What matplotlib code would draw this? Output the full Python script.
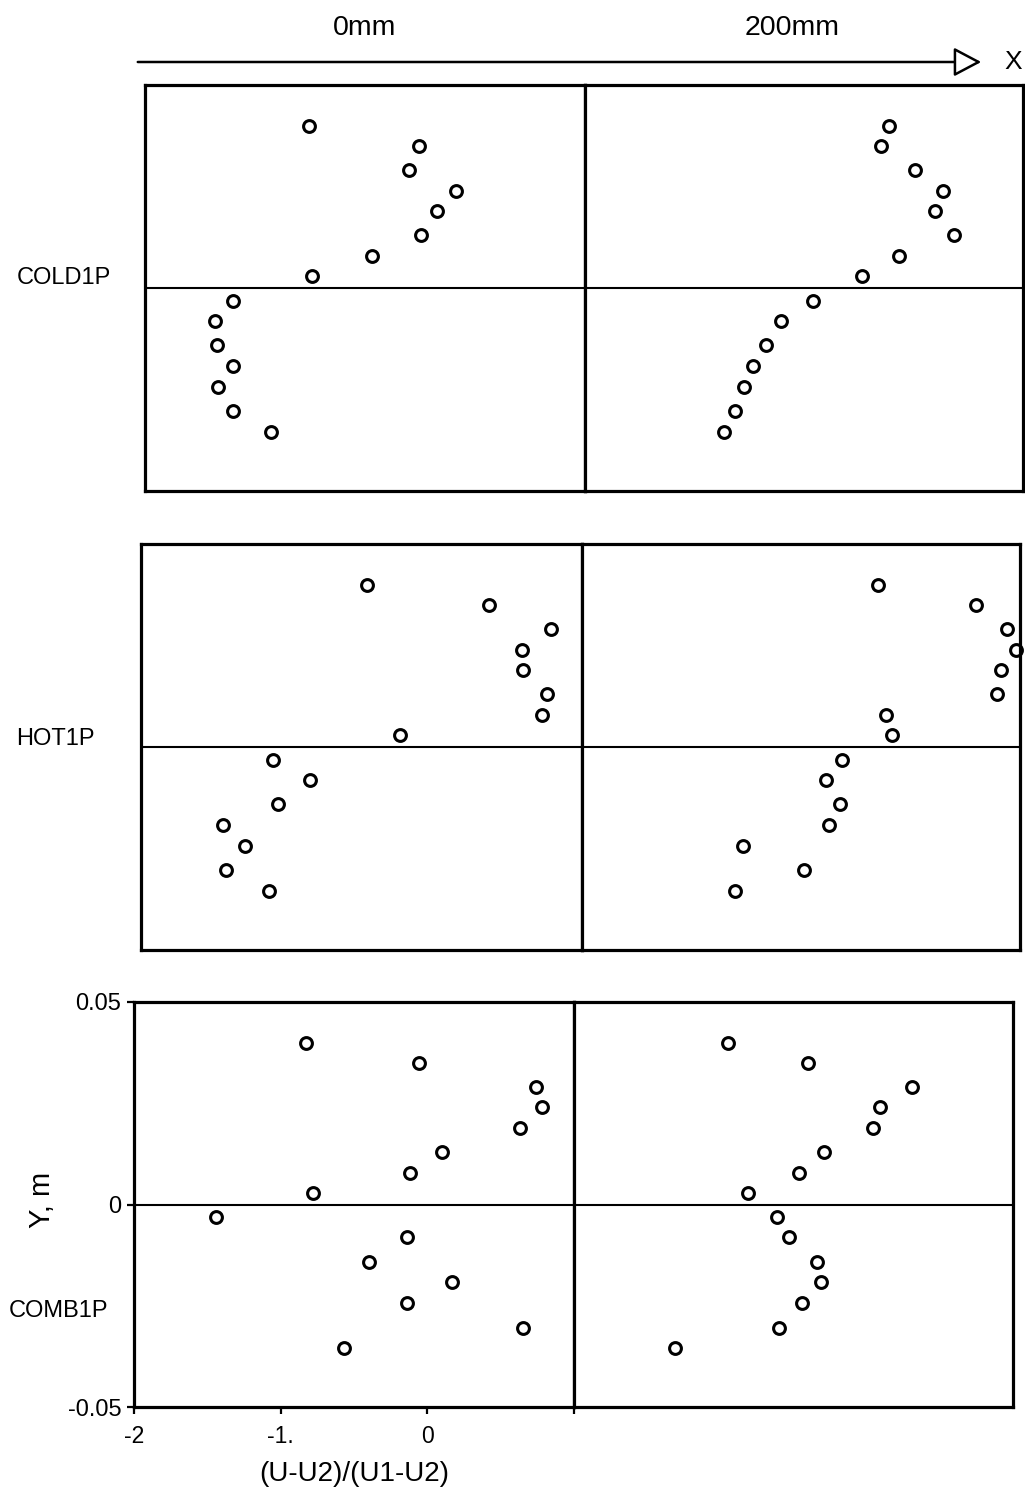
import matplotlib
matplotlib.use("Agg")
import matplotlib.pyplot as plt
from matplotlib.patches import FancyArrowPatch

# Transverse measurement stations (m), shared by every profile
y_pos = [0.040, 0.035, 0.029, 0.024, 0.019, 0.013, 0.0078, 0.0029,
         -0.0032, -0.0081, -0.0141, -0.0192, -0.0243, -0.0304, -0.0354]

# Normalised velocity (U-U2)/(U1-U2) at X = 0 mm and X = 200 mm
cold_0mm = [-0.88, -0.13, -0.20, 0.12, -0.01, -0.12, -0.45, -0.86,
            -1.40, -1.52, -1.51, -1.40, -1.50, -1.40, -1.14]
cold_200mm = [0.08, 0.03, 0.26, 0.45, 0.40, 0.53, 0.15, -0.10,
              -0.44, -0.66, -0.76, -0.85, -0.91, -0.97, -1.05]
hot_0mm = [-0.46, 0.37, 0.79, 0.59, 0.60, 0.76, 0.73, -0.24,
           -1.10, -0.85, -1.07, -1.44, -1.29, -1.42, -1.13]
hot_200mm = [0.03, 0.70, 0.91, 0.97, 0.87, 0.84, 0.08, 0.12,
             -0.22, -0.33, -0.23, -0.31, -0.90, -0.48, -0.95]
comb_0mm = [-0.83, -0.06, 0.74, 0.78, 0.63, 0.10, -0.12, -0.78,
            -1.44, -0.14, -0.40, 0.17, -0.14, 0.65, -0.57]
comb_200mm = [-0.95, -0.40, 0.31, 0.09, 0.04, -0.29, -0.46, -0.81,
              -0.61, -0.53, -0.34, -0.31, -0.44, -0.60, -1.31]

case_names = ["COLD1P", "HOT1P", "COMB1P"]
station_names = ["0mm", "200mm"]
x_ticks = [-2, -1, 0, 1]
x_tick_labels = ["-2", "-1.", "0", ""]
y_ticks = [-0.05, 0, 0.05]
y_tick_labels = ["-0.05", "0", "0.05"]

plt.rcParams["font.family"] = ["Liberation Sans", "DejaVu Sans"]

W, H = 1025, 1489
fig = plt.figure(figsize=(W / 100, H / 100), dpi=100)


def fx(px):
    return px / W


def fy(py):
    return 1 - py / H


def add_px_axes(x0, x1, y0, y1):
    return fig.add_axes([fx(x0), fy(y1), (x1 - x0) / W, (y1 - y0) / H])


# (left, middle, right, top, bottom) in pixels, plus label row position
layout = [
    ((145, 585, 1023, 85, 491), 278, 17),
    ((141, 582, 1020, 544, 950), 739, 16),
    ((134, 574, 1013, 1002, 1407), 1311, 9),
]
profiles = [(cold_0mm, cold_200mm), (hot_0mm, hot_200mm), (comb_0mm, comb_200mm)]

for r, ((xl, xm, xr, yt, yb), label_y, label_x) in enumerate(layout):
    axes = [add_px_axes(xl, xm, yt, yb), add_px_axes(xm, xr, yt, yb)]
    for ax, xs in zip(axes, profiles[r]):
        ax.set_xlim(-2, 1)
        ax.set_ylim(-0.05, 0.05)
        ax.axhline(0, color="black", lw=1.5, zorder=1)
        ax.plot(xs, y_pos, "o", mfc="none", mec="black", ms=8.5, mew=2.2,
                clip_on=False, zorder=3)
        for sp in ax.spines.values():
            sp.set_linewidth(2.3)
        ax.set_xticks([])
        ax.set_yticks([])
    fig.text(fx(label_x), fy(label_y), case_names[r], ha="left", va="center",
             fontsize=17)

    if r == 2:
        ax = axes[0]
        ax.set_xticks(x_ticks)
        ax.set_xticklabels(x_tick_labels, fontsize=16.5)
        ax.set_yticks(y_ticks)
        ax.set_yticklabels(y_tick_labels, fontsize=17)
        ax.tick_params(direction="out", length=5, width=1.6, pad=4)
        ax.tick_params(axis="x", pad=8)

# Axis titles
fig.text(fx(354), fy(1474), "(U-U2)/(U1-U2)", ha="center", va="center",
         fontsize=20)
fig.text(fx(42), fy(1200), "Y, m", ha="center", va="center", rotation=90,
         fontsize=21)

# Streamwise stations and X direction arrow
fig.text(fx(365), fy(28), station_names[0], ha="center", va="center", fontsize=20.5)
fig.text(fx(792), fy(28), station_names[1], ha="center", va="center", fontsize=20.5)
arrow = FancyArrowPatch(posA=(fx(135), fy(62)), posB=(fx(984), fy(62)),
                        transform=fig.transFigure,
                        arrowstyle="-|>,head_length=0.85,head_width=0.45",
                        mutation_scale=20, lw=1.8, fc="white", ec="black")
fig.add_artist(arrow)
fig.text(fx(1013), fy(62), "X", ha="center", va="center", fontsize=19)

fig.savefig("out.png", dpi=100, facecolor="white")
